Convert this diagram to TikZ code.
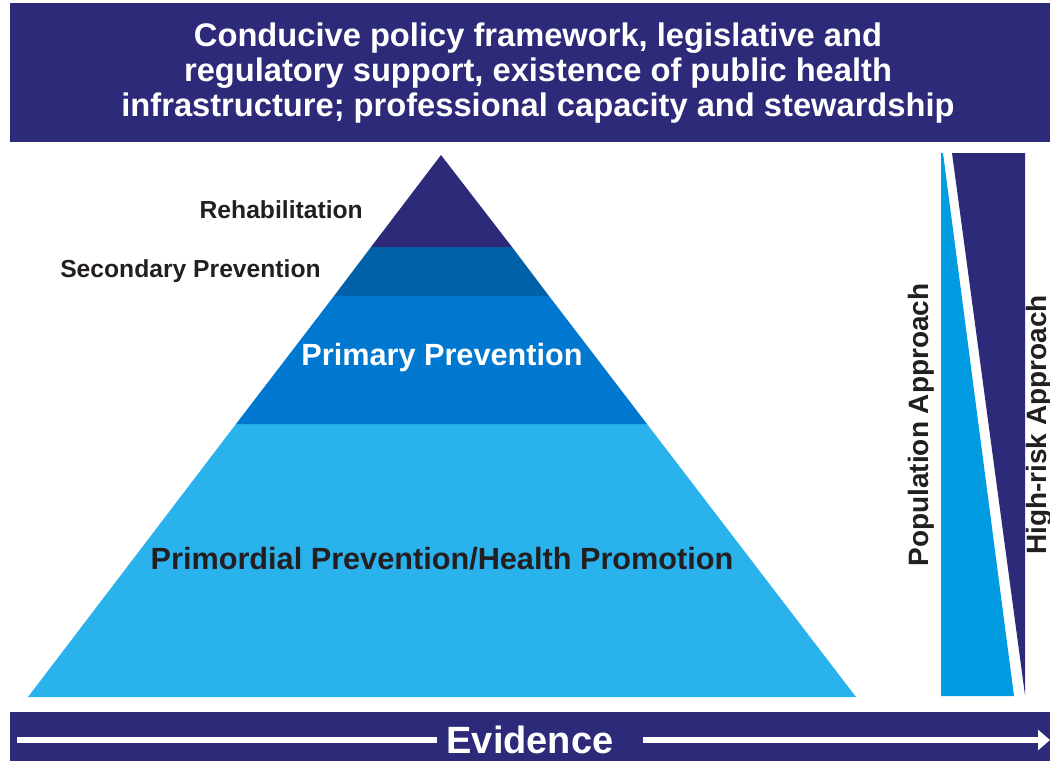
\documentclass[tikz,border=0pt]{standalone}
\usepackage{fontspec}
\setmainfont{Liberation Sans}
\usetikzlibrary{positioning,arrows.meta}
\definecolor{navy}{HTML}{2E2A7A}
\definecolor{secblue}{HTML}{0061A8}
\definecolor{priblue}{HTML}{0078CF}
\definecolor{skyblue}{HTML}{2AB2EC}
\definecolor{popblue}{HTML}{009BE0}
\definecolor{inkdark}{HTML}{231F20}

\begin{document}
\begin{tikzpicture}[x=0.75pt,y=-0.75pt,
bandlabel/.style={font=\bfseries\fontsize{23}{27}\selectfont, inner sep=0pt},
sidelabel/.style={font=\bfseries\fontsize{18.5}{22}\selectfont, text=inkdark, anchor=east, inner sep=0pt},
approachlabel/.style={font=\bfseries\fontsize{21}{25}\selectfont, text=inkdark, rotate=90, inner sep=0pt},
evline/.style={white, line width=5pt},
]
\useasboundingbox (0,0) rectangle (1050,761);

%Banner
\fill[navy] (10,3) rectangle (1050,142);
\node[align=center, text=white, font=\bfseries\fontsize{24.5}{26.5}\selectfont] (policy) at (538,73)
  {Conducive policy framework, legislative and\\regulatory support, existence of public health\\infrastructure; professional capacity and stewardship};

%Pyramid
\fill[skyblue] (236,424) -- (647,424) -- (856,697) -- (28,697) -- cycle;
\fill[priblue] (334,296) -- (549,296) -- (647,424) -- (236,424) -- cycle;
\fill[secblue] (371,247) -- (512,247) -- (549,296) -- (334,296) -- cycle;
\fill[navy] (441,155) -- (512,247) -- (371,247) -- cycle;

\node[sidelabel]              (rehab)      at (363,210) {Rehabilitation};
\node[sidelabel]              (secondary)  at (321,271) {Secondary Prevention};
\node[bandlabel, text=white]  (primary)    at (442,358) {Primary Prevention};
\node[bandlabel, text=inkdark] (primordial) at (442,559) {Primordial Prevention/Health Promotion};

%Approaches
\fill[popblue] (941,153) -- (943,153) -- (1014,696) -- (941,696) -- cycle;
\fill[navy] (952,153) -- (1025,153) -- (1025,695) -- cycle;
\node[approachlabel] (population) at (921,425) {Population Approach};
\node[approachlabel] (highrisk)   at (1039,425) {High-risk Approach};

%Evidence
\fill[navy] (10,712) rectangle (1050,761);
\node[text=white, font=\bfseries\fontsize{28.5}{33}\selectfont, inner sep=0pt] (evidence) at (530,740) {Evidence};
\coordinate (evstart) at (17,740);
\coordinate (evend)   at (1050,740);
\draw[evline] (evstart) -- ([xshift=-7]evidence.west);
\draw[evline, -{Triangle[length=9pt,width=15pt]}] ([xshift=22]evidence.east) -- (evend);

\end{tikzpicture}
\end{document}
